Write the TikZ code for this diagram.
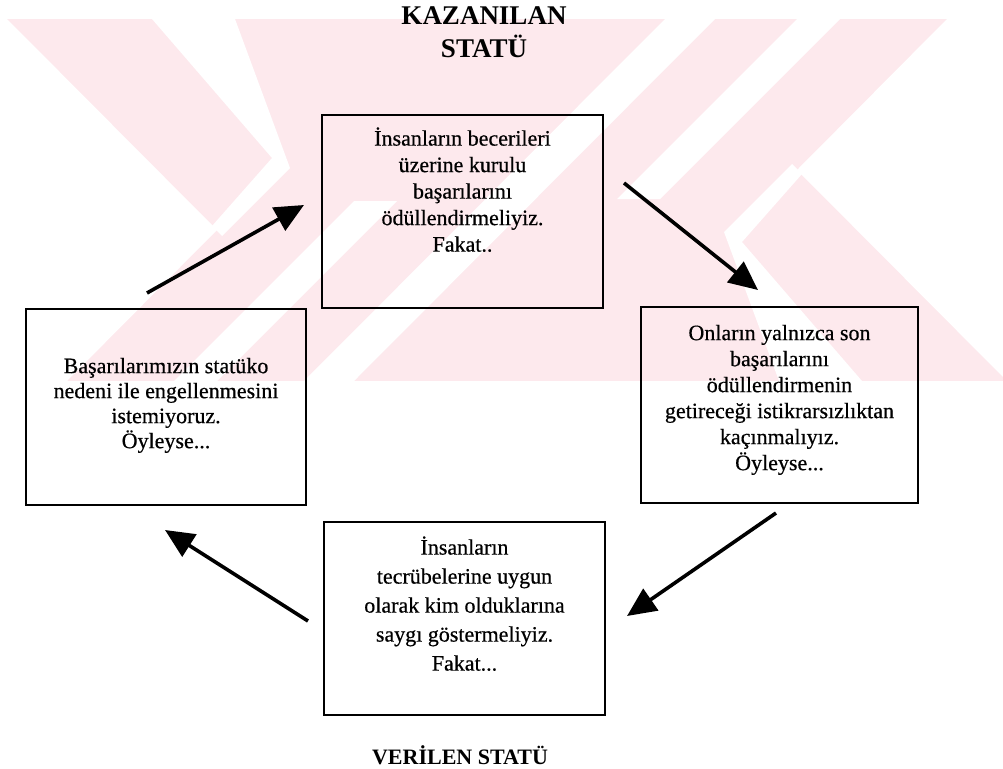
\documentclass[tikz,border=0pt]{standalone}
\usepackage{fontspec}
\setmainfont{Liberation Serif}
\newfontfamily\boxfont{Liberation Serif}[FakeBold=0.5]
\usetikzlibrary{arrows.meta}
\definecolor{wmpink}{RGB}{253,233,237}
\newcommand{\txtdrop}[1]{\rule[-#1]{0pt}{#1}}

\begin{document}
\begin{tikzpicture}[x=1pt,y=-1pt,>={Triangle[length=29pt,width=26pt]},
  box/.style={draw,line width=2.8pt,inner sep=0pt,align=center},
  flow/.style={->,line width=3.6pt}]
\useasboundingbox (0,0) rectangle (1003,768);
% watermark
\fill[wmpink] (0,19) rectangle (1003,381);
\fill[white] (0,19) -- (7,19) -- (217,230) -- (67,381) -- (0,381) -- cycle;
\fill[white] (152,19) -- (235,19) -- (290,168) -- (222,236) -- (212,226) -- (272,158) -- cycle;
\fill[white] (1014,381) -- (1007,381) -- (797,170) -- (947,19) -- (1014,19) -- cycle;
\fill[white] (862,381) -- (779,381) -- (724,232) -- (792,164) -- (802,174) -- (742,242) -- cycle;
\fill[white] (665,19) -- (715,19) -- (354,381) -- (304,381) -- cycle;
\fill[white] (797,19) -- (840,19) -- (660,199) -- (617,199) -- cycle;
\fill[white] (217,381) -- (174,381) -- (354,201) -- (397,201) -- cycle;

\node[font=\bfseries\fontsize{27}{33}\selectfont,align=center] (kaz) at (484,32.5) {KAZANILAN\\STATÜ};
\node[box,minimum width=281pt,minimum height=193pt,font=\boxfont\fontsize{22}{26.5}\selectfont] (top) at (462.5,211.5)
  {İnsanların becerileri\\üzerine kurulu\\başarılarını\\ödüllendirmeliyiz.\\Fakat..\txtdrop{44pt}};
\node[box,minimum width=280pt,minimum height=196pt,font=\boxfont\fontsize{22}{25}\selectfont] (lft) at (166,407)
  {Başarılarımızın statüko\\nedeni ile engellenmesini\\istemiyoruz.\\Öyleyse...\txtdrop{8pt}};
\node[box,minimum width=277pt,minimum height=196pt,font=\boxfont\fontsize{22}{26}\selectfont] (rgt) at (779.5,405)
  {Onların yalnızca son\\başarılarını\\ödüllendirmenin\\getireceği istikrarsızlıktan\\kaçınmalıyız.\\Öyleyse...\txtdrop{15pt}};
\node[box,minimum width=281pt,minimum height=193pt,font=\boxfont\fontsize{22}{29}\selectfont] (bot) at (464.5,618.5)
  {İnsanların\\tecrübelerine uygun\\olarak kim olduklarına\\saygı göstermeliyiz.\\Fakat...\txtdrop{30pt}};
\node[font=\bfseries\fontsize{22}{26}\selectfont,anchor=base,inner sep=1pt] (ver) at (460,764) {VERİLEN STATÜ};

\coordinate (a1) at (147,293);
\coordinate (b1) at (304,205);
\coordinate (a2) at (624,183);
\coordinate (b2) at (758,290);
\coordinate (a3) at (776,513);
\coordinate (b3) at (627,616);
\coordinate (a4) at (308,621);
\coordinate (b4) at (165,530);
\draw[flow] (a1) -- (b1);
\draw[flow] (a2) -- (b2);
\draw[flow] (a3) -- (b3);
\draw[flow] (a4) -- (b4);
\end{tikzpicture}
\end{document}
